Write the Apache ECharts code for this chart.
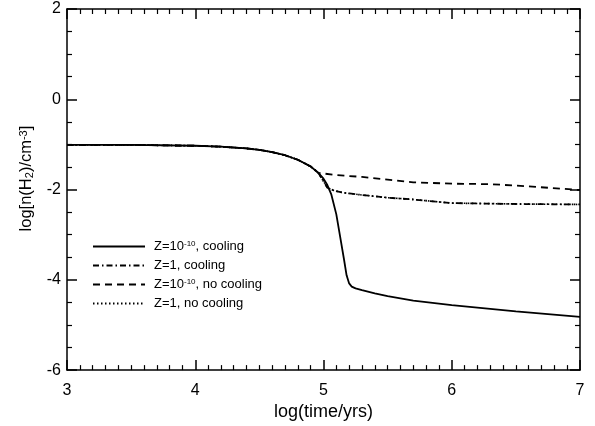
<!DOCTYPE html>
<html><head><meta charset="utf-8">
<script src="https://cdn.jsdelivr.net/npm/echarts@6/dist/echarts.min.js"></script>
<style>html,body{margin:0;padding:0;background:#fff}#c{width:595px;height:426px}</style>
</head><body><div id="c"></div>
<script>
// shared early evolution (all models coincide)
var earlyTime = [3.0, 3.5, 4.0, 4.2, 4.4, 4.5, 4.6, 4.7, 4.8, 4.9, 4.96];
var earlyVal  = [-1.01, -1.01, -1.03, -1.05, -1.09, -1.12, -1.17, -1.24, -1.34, -1.49, -1.63];
// Z=1e-10, cooling (solid)
var coolLowTime = [5.0, 5.03, 5.06, 5.1, 5.13, 5.16, 5.18, 5.2, 5.22, 5.25, 5.3, 5.4, 5.5, 5.7, 6.0, 6.5, 7.0];
var coolLowVal  = [-1.76, -1.9, -2.1, -2.55, -3.05, -3.55, -3.9, -4.08, -4.15, -4.19, -4.23, -4.3, -4.36, -4.46, -4.56, -4.7, -4.82];
// Z=1, cooling (dash-dot)
var coolSolTime = [5.03, 5.08, 5.15, 5.3, 5.5, 5.7, 6.0, 6.5, 7.0];
var coolSolVal  = [-1.96, -2.02, -2.07, -2.12, -2.18, -2.22, -2.3, -2.32, -2.33];
// Z=1e-10, no cooling (dashed)
var noCoolLowTime = [5.1, 5.3, 5.5, 5.7, 6.0, 6.3, 6.6, 7.0];
var noCoolLowVal  = [-1.68, -1.72, -1.78, -1.84, -1.87, -1.88, -1.93, -2.01];
// Z=1, no cooling (dotted) - hidden beneath the dash-dot curve
var noCoolSolTime = coolSolTime;
var noCoolSolVal  = coolSolVal;
var xTicks = [3, 4, 5, 6, 7];
var yTicks = [-6, -4, -2, 0, 2];

function pairs(t1, v1, t2, v2) {
  var out = [];
  for (var i = 0; i < t1.length; i++) out.push([t1[i], v1[i]]);
  for (var j = 0; j < t2.length; j++) out.push([t2[j], v2[j]]);
  return out;
}
var F = 'Liberation Sans, Arial, sans-serif';
var chart = echarts.init(document.getElementById('c'));
function axisCommon(showLabel) {
  return {
    axisLine: {show: true, onZero: false, lineStyle: {color: '#000', width: 1.5}},
    axisTick: {show: true, inside: true, length: 10, lineStyle: {color: '#000', width: 1.5}},
    minorTick: {show: true, length: 5, lineStyle: {color: '#000', width: 1.2}},
    splitLine: {show: false},
    axisLabel: {show: showLabel, color: '#000', fontFamily: F, fontSize: 16}
  };
}
var xb = Object.assign(axisCommon(true), {type: 'value', min: 3, max: 7, interval: 1, position: 'bottom',
  name: 'log(time/yrs)', nameLocation: 'middle', nameGap: 28,
  nameTextStyle: {color: '#000', fontFamily: F, fontSize: 18}});
xb.minorTick.splitNumber = 10; xb.axisLabel.margin = 12;
var xt = Object.assign(axisCommon(false), {type: 'value', min: 3, max: 7, interval: 1, position: 'top'});
xt.minorTick.splitNumber = 10;
var yl = Object.assign(axisCommon(true), {type: 'value', min: -6, max: 2, interval: 2, position: 'left',
  name: '{a|log[n(H}{sub|2}{a|)/cm}{sup|-3}{a|]}', nameLocation: 'middle', nameGap: 32, nameRotate: 90,
  nameTextStyle: {color: '#000', fontFamily: F, fontSize: 16.5, padding: [0, 0, 0, 22], rich: {
    a: {fontFamily: F, fontSize: 16.5, color: '#000'},
    sub: {fontFamily: F, fontSize: 11, color: '#000', verticalAlign: 'bottom'},
    sup: {fontFamily: F, fontSize: 11, color: '#000', verticalAlign: 'top'}
  }}});
yl.minorTick.splitNumber = 4; yl.axisLabel.margin = 6;
var yr = Object.assign(axisCommon(false), {type: 'value', min: -6, max: 2, interval: 2, position: 'right'});
yr.minorTick.splitNumber = 4;

var names = ['Z=10^-10, cooling', 'Z=1, cooling', 'Z=10^-10, no cooling', 'Z=1, no cooling'];
function ser(name, data, type, w, z) {
  return {name: name, type: 'line', data: data, symbol: 'none', showSymbol: false, z: z,
    lineStyle: {color: '#000', width: w, type: type}, itemStyle: {color: '#000'}, animation: false};
}
chart.setOption({
  animation: false,
  grid: {left: 67, right: 15, top: 9, bottom: 53},
  xAxis: [xb, xt],
  yAxis: [yl, yr],
  legend: {
    left: 87, top: 235, orient: 'vertical', itemWidth: 52, itemHeight: 14, itemGap: 6,
    selectedMode: false,
    itemStyle: {opacity: 0},
    data: names,
    formatter: function (n) {
      var p = n.split('^');
      if (p.length === 1) return '{a|' + n + '}';
      var rest = p[1].split(',');
      return '{a|' + p[0] + '}{sup|' + rest[0] + '}{a|,' + rest.slice(1).join(',') + '}';
    },
    textStyle: {fontFamily: F, fontSize: 13, color: '#000', padding: [0, 0, 0, 4], rich: {
      a: {fontFamily: F, fontSize: 13, color: '#000'},
      sup: {fontFamily: F, fontSize: 8, color: '#000', verticalAlign: 'top'}
    }}
  },
  series: [
    ser(names[3], pairs(earlyTime, earlyVal, noCoolSolTime, noCoolSolVal), [1.5, 2.5], 1.6, 1),
    ser(names[2], pairs(earlyTime, earlyVal, noCoolLowTime, noCoolLowVal), [7, 5], 1.8, 2),
    ser(names[1], pairs(earlyTime, earlyVal, coolSolTime, coolSolVal), [6, 3, 1.5, 3], 1.8, 3),
    ser(names[0], pairs(earlyTime, earlyVal, coolLowTime, coolLowVal), 'solid', 1.8, 4)
  ]
});
</script></body></html>
